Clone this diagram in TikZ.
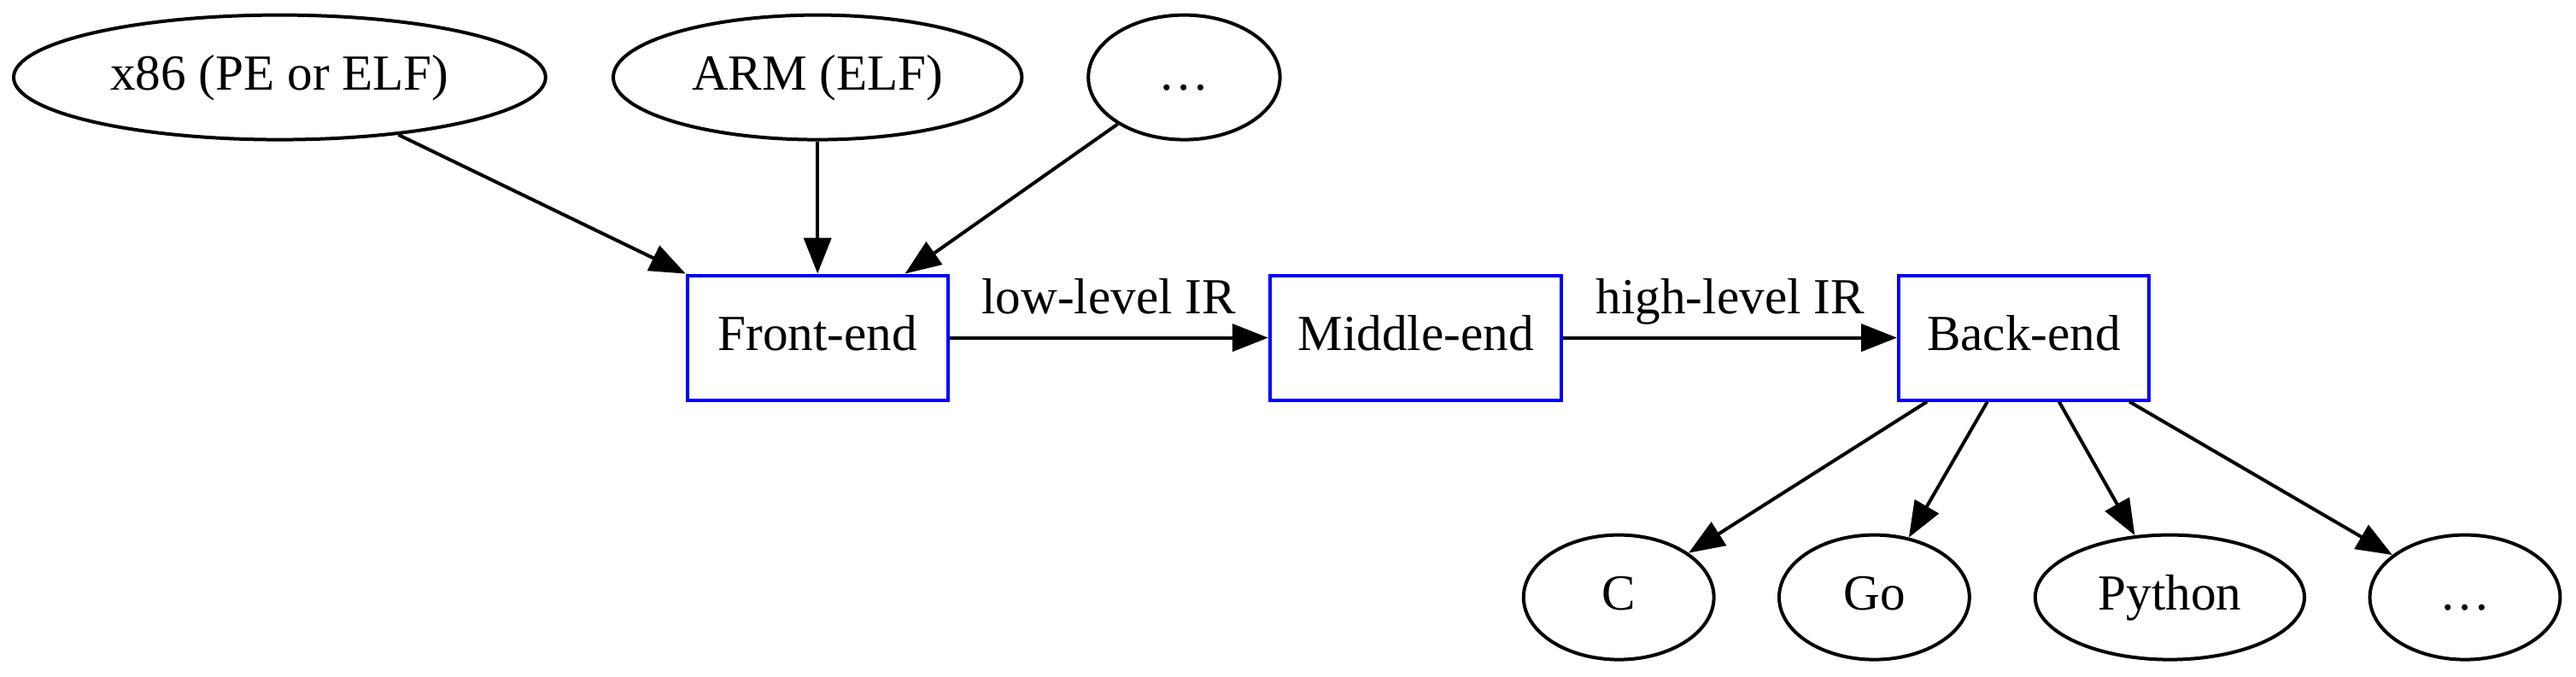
\documentclass[tikz,border=0pt]{standalone}
\usepackage{fontspec}
\setmainfont{Liberation Serif}
\usetikzlibrary{shapes.geometric,arrows.meta}
\tikzset{
	fmt/.style={ellipse,draw,line width=1pt,inner sep=0pt,minimum height=36.5pt,text height=10.6pt,text depth=3pt},
	stage/.style={rectangle,draw=blue,line width=1pt,inner sep=0pt,minimum height=36.5pt,text height=10.6pt,text depth=3pt},
	flow/.style={line width=1pt,-{Triangle[length=10.5pt,width=8pt]}},
	irlabel/.style={midway,anchor=base,yshift=7pt}
}
\begin{document}
\begin{tikzpicture}[x=1pt,y=1pt,font=\fontsize{14.8}{17}\selectfont]
		\useasboundingbox (0,0) rectangle (754,198);
		% input formats
		\node[fmt,minimum width=155.7pt] (inx86) at (81.85,175.35) {x86 (PE or ELF)};
		\node[fmt,minimum width=119.6pt] (inarm) at (239.3,175.35) {ARM (ELF)};
		\node[fmt,minimum width=56.1pt] (inmore) at (346.6,175.35) {…};
		% pipeline
		\node[stage,minimum width=76.2pt] (fe) at (239.3,99.1) {Front-end};
		\node[stage,minimum width=85.4pt] (me) at (414.4,99.1) {Middle-end};
		\node[stage,minimum width=73.3pt] (be) at (592.4,99.1) {Back-end};
		% output languages
		\node[fmt,minimum width=55.7pt] (outc) at (473.8,23.1) {C};
		\node[fmt,minimum width=55.7pt] (outgo) at (548.6,23.1) {Go};
		\node[fmt,minimum width=78.8pt] (outpy) at (635.1,23.1) {Python};
		\node[fmt,minimum width=55.7pt] (outmore) at (721.5,23.1) {…};
		% edges
		\draw[flow] (inx86) -- (fe.north west);
		\draw[flow] (inarm) -- (fe);
		\draw[flow] (inmore) -- ([xshift=-13pt]fe.north east);
		\draw[flow] (fe) -- node[irlabel] {low-level IR} (me);
		\draw[flow] (me) -- node[irlabel] {high-level IR} (be);
		\foreach \dx/\n in {-28.4/outc,-10.7/outgo,10.3/outpy,30.9/outmore}
		\draw[flow] ([xshift=\dx pt]be.south) -- (\n);
	\end{tikzpicture}
\end{document}
